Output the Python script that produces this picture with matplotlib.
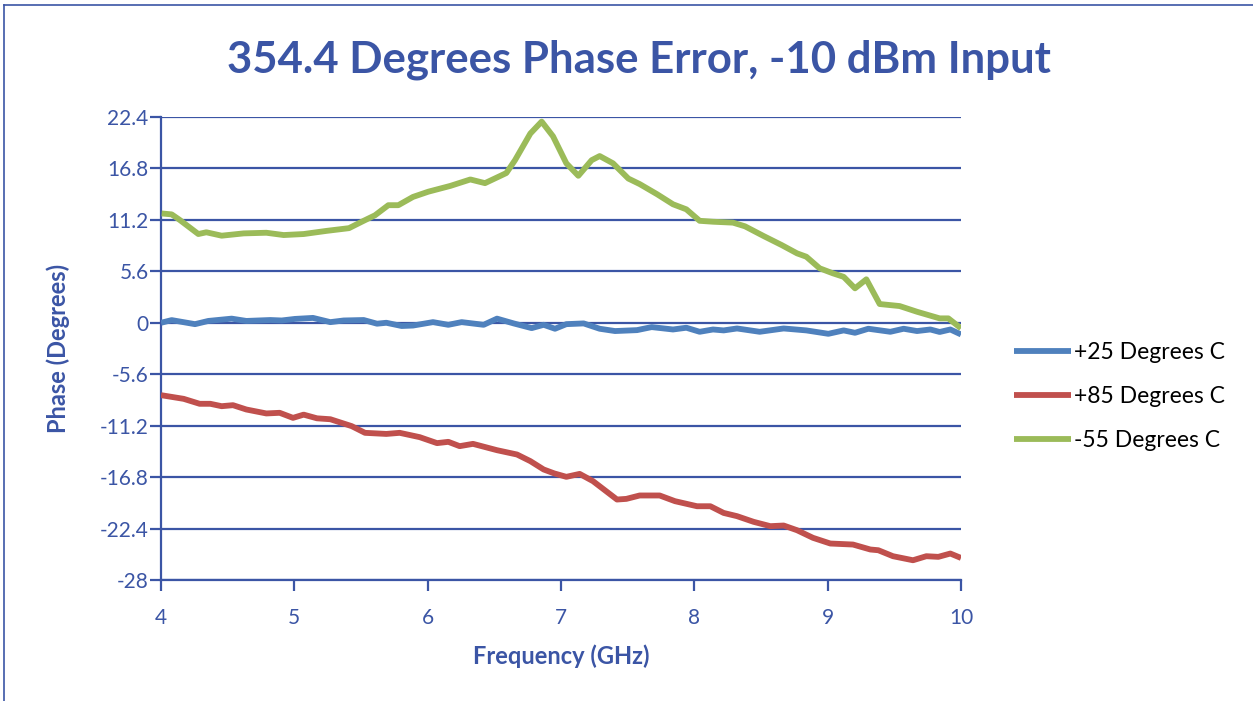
import matplotlib
matplotlib.use("Agg")
import matplotlib.pyplot as plt
from matplotlib.lines import Line2D

# ─── data ──────────────────────────────────────────────────────────────────
freq_p25 = [4.0, 4.08, 4.255, 4.355, 4.53, 4.64, 4.82, 4.905, 5.005, 5.14, 5.27,
            5.37, 5.52, 5.62, 5.69, 5.805, 5.89, 6.04, 6.155, 6.255, 6.42, 6.52,
            6.645, 6.78, 6.87, 6.955, 7.04, 7.17, 7.29, 7.405, 7.57, 7.68, 7.84,
            7.94, 8.04, 8.14, 8.22, 8.32, 8.49, 8.67, 8.84, 9.005, 9.12, 9.205,
            9.305, 9.47, 9.57, 9.67, 9.77, 9.84, 9.92, 10.0]
phase_p25 = [0.0, 0.29, -0.15, 0.2, 0.45, 0.2, 0.3, 0.25, 0.42, 0.53, 0.07,
             0.25, 0.3, -0.1, 0.0, -0.35, -0.3, 0.07, -0.22, 0.07, -0.22, 0.45,
             -0.07, -0.58, -0.22, -0.65, -0.15, -0.07, -0.65, -0.9, -0.8, -0.47, -0.73,
             -0.54, -0.98, -0.73, -0.83, -0.62, -0.98, -0.62, -0.83, -1.2, -0.83, -1.09,
             -0.65, -0.98, -0.65, -0.9, -0.73, -1.0, -0.73, -1.27]

freq_p85 = [4.0, 4.17, 4.29, 4.37, 4.455, 4.54, 4.64, 4.79, 4.89, 4.99, 5.07,
            5.17, 5.27, 5.43, 5.53, 5.69, 5.79, 5.94, 6.07, 6.155, 6.24, 6.34,
            6.52, 6.67, 6.77, 6.87, 6.95, 7.04, 7.14, 7.24, 7.42, 7.49, 7.59,
            7.74, 7.855, 8.02, 8.12, 8.22, 8.32, 8.445, 8.57, 8.67, 8.77, 8.89,
            9.02, 9.19, 9.32, 9.38, 9.49, 9.64, 9.74, 9.83, 9.92, 10.0]
phase_p85 = [-7.88, -8.28, -8.82, -8.82, -9.08, -8.97, -9.44, -9.87, -9.8, -10.35, -10.0,
             -10.4, -10.5, -11.25, -11.98, -12.1, -11.98, -12.45, -13.1, -12.96, -13.43, -13.18,
             -13.87, -14.34, -15.06, -15.97, -16.4, -16.77, -16.45, -17.24, -19.24, -19.17, -18.8,
             -18.8, -19.42, -19.97, -19.97, -20.7, -21.05, -21.67, -22.14, -22.07, -22.58, -23.41,
             -24.03, -24.14, -24.68, -24.76, -25.41, -25.85, -25.41, -25.48, -25.12, -25.6]

freq_m55 = [4.005, 4.08, 4.14, 4.28, 4.34, 4.455, 4.62, 4.79, 4.92, 5.07, 5.24,
            5.41, 5.52, 5.605, 5.705, 5.78, 5.89, 6.005, 6.17, 6.32, 6.43, 6.59,
            6.655, 6.77, 6.855, 6.94, 7.04, 7.13, 7.23, 7.29, 7.39, 7.505, 7.59,
            7.72, 7.84, 7.94, 8.04, 8.14, 8.29, 8.38, 8.52, 8.655, 8.77, 8.84,
            8.94, 9.04, 9.12, 9.205, 9.29, 9.39, 9.54, 9.67, 9.84, 9.905, 10.0]
phase_m55 = [11.9, 11.8, 11.2, 9.66, 9.85, 9.48, 9.73, 9.8, 9.55, 9.66, 10.0,
             10.3, 11.1, 11.7, 12.8, 12.8, 13.7, 14.27, 14.9, 15.6, 15.2, 16.3,
             17.7, 20.6, 21.9, 20.3, 17.36, 16.0, 17.7, 18.15, 17.36, 15.7, 15.1,
             14.0, 12.9, 12.35, 11.1, 11.0, 10.9, 10.5, 9.44, 8.46, 7.56, 7.19,
             5.93, 5.38, 5.0, 3.75, 4.73, 2.04, 1.82, 1.2, 0.48, 0.48, -0.6]

series_labels = ["+25 Degrees C", "+85 Degrees C", "-55 Degrees C"]
series_colors = ["#4F81BD", "#C0504D", "#9BBB59"]

y_ticks = [22.4, 16.8, 11.2, 5.6, 0, -5.6, -11.2, -16.8, -22.4, -28]
y_tick_labels = ["22.4", "16.8", "11.2", "5.6", "0", "-5.6", "-11.2", "-16.8", "-22.4", "-28"]
x_ticks = [4, 5, 6, 7, 8, 9, 10]

AXIS_BLUE = "#3B55A5"
TEXT_BLUE = "#3B55A5"

plt.rcParams["font.family"] = ["Lato", "DejaVu Sans"]

fig = plt.figure(figsize=(12.53, 7.01), dpi=100)
ax = fig.add_axes([161 / 1253, 121 / 701, 800 / 1253, 463 / 701])

for f, p, lab, col in zip([freq_p25, freq_p85, freq_m55],
                          [phase_p25, phase_p85, phase_m55],
                          series_labels, series_colors):
    ax.plot(f, p, color=col, lw=4.2, label=lab, solid_joinstyle="round",
            solid_capstyle="butt", zorder=3)

ax.set_xlim(4, 10)
ax.set_ylim(-28, 22.4)
ax.set_yticks(y_ticks)
ax.set_yticklabels(y_tick_labels)
ax.set_xticks(x_ticks)

ax.yaxis.grid(True, color=AXIS_BLUE, lw=1.6, zorder=1)
ax.set_axisbelow(True)
for side in ["top", "right"]:
    ax.spines[side].set_visible(False)
for side in ["left", "bottom"]:
    ax.spines[side].set_color(AXIS_BLUE)
    ax.spines[side].set_linewidth(1.6)
ax.tick_params(axis="both", colors=AXIS_BLUE, labelcolor=TEXT_BLUE,
               labelsize=15, length=8, width=1.6, direction="out")
ax.tick_params(axis="x", pad=12)
ax.tick_params(axis="y", pad=1)

ax.set_xlabel("Frequency (GHz)", color=TEXT_BLUE, fontsize=17,
              fontweight="bold", labelpad=12)
ax.set_ylabel("Phase (Degrees)", color=TEXT_BLUE, fontsize=17,
              fontweight="bold", labelpad=21)

fig.text(639 / 1253, 1 - 60 / 701, "354.4 Degrees Phase Error, -10 dBm Input",
         ha="center", va="center", color=TEXT_BLUE, fontsize=31.5, fontweight="bold")

ax.legend(loc="center left", bbox_to_anchor=(1.055, 0.397), frameon=False,
          fontsize=16.5, labelcolor="black", handlelength=2.5, handletextpad=0.1,
          labelspacing=1.0, borderaxespad=0)

# outer chart border (only top and left visible in the crop)
fig.add_artist(Line2D([4 / 1253, 1], [1 - 5 / 701, 1 - 5 / 701],
                      transform=fig.transFigure, color=AXIS_BLUE, lw=1.2))
fig.add_artist(Line2D([4 / 1253, 4 / 1253], [0, 1 - 5 / 701],
                      transform=fig.transFigure, color=AXIS_BLUE, lw=1.2))

fig.savefig("out.png", dpi=100, facecolor="white")
